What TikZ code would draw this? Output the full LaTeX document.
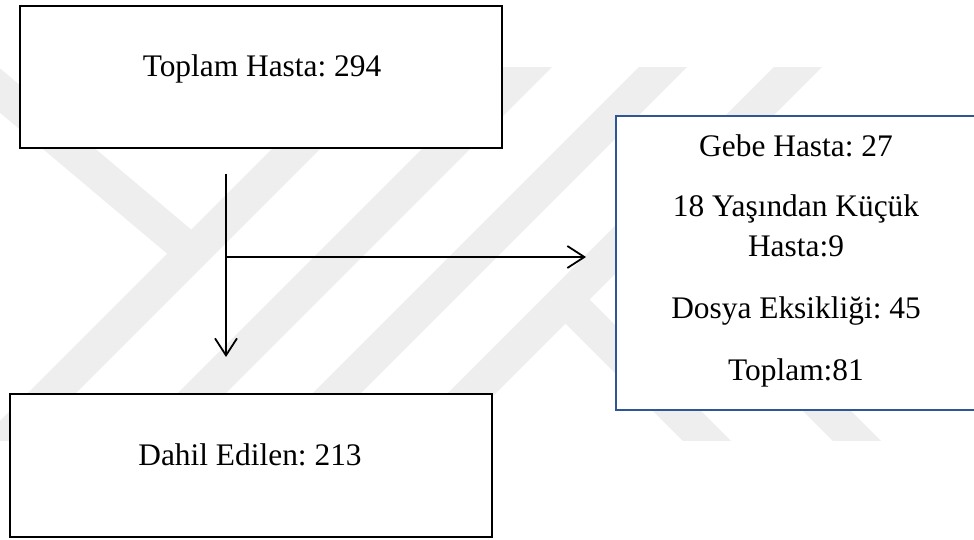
\documentclass[tikz,border=0pt]{standalone}
\usepackage{fontspec}
\setmainfont{Liberation Serif}
\usetikzlibrary{arrows.meta}
\definecolor{wm}{RGB}{238,238,238}
\definecolor{boxblue}{RGB}{47,85,151}
\begin{document}
\frenchspacing
\begin{tikzpicture}[x=1pt,y=-1pt,
  txt/.style={font=\fontsize{31.4}{40}\selectfont, inner sep=0pt, anchor=base},
  plainbox/.style={draw=black, line width=2.3pt, fill=white, inner sep=0pt},
  bluebox/.style={draw=boxblue, line width=2.3pt, fill=white, inner sep=0pt},
  arr/.style={line width=1.8pt, -{Straight Barb[length=17pt,width=22pt,line width=1.8pt]}},
  wmband/.style={draw=wm, line width=34pt}]
\useasboundingbox (0,0) rectangle (974,540);
% faint watermark
\begin{scope}
\clip (0,68) rectangle (974,440);
\foreach \c in {445,595,730,865}{
  \draw[wmband] ({\c-480},480) -- ({\c-30},30);
}
\draw[wmband] (-60,40) -- (195,255);
\draw[wmband] (566,300) -- (800,534);
\draw[wmband] (650,234) -- (900,484);
\end{scope}
% boxes
\node[plainbox, minimum width=482pt, minimum height=142pt] (top) at (261,77) {};
\node[plainbox, minimum width=482pt, minimum height=143pt] (bot) at (251,465.5) {};
\node[bluebox, minimum width=380pt, minimum height=294pt] (side) at (806,263) {};
% texts
\node[txt] (toptext) at (262,77) {Toplam Hasta: 294};
\node[txt] (bottext) at (250,465) {Dahil Edilen: 213};
\node[txt] (s1) at (796,156.7) {Gebe Hasta: 27};
\node[txt] (s2) at (796,216.7) {18 Yaşından Küçük};
\node[txt] (s3) at (796,256.7) {Hasta:9};
\node[txt] (s4) at (796,318) {Dosya Eksikliği: 45};
\node[txt] (s5) at (796,380) {Toplam:81};
% connectors
\coordinate (vs) at (226,174);
\coordinate (ve) at (226,357);
\coordinate (hs) at (226,257);
\coordinate (he) at (586,257);
\draw[arr] (vs) -- (ve);
\draw[arr] (hs) -- (he);
\end{tikzpicture}
\end{document}
